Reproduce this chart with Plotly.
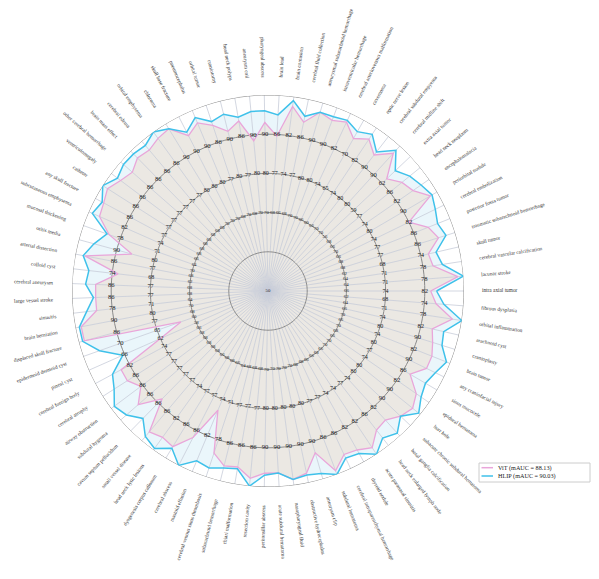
import math
import plotly.graph_objects as go

categories = [
    "intra axial tumor", "lacunar stroke", "cerebral vascular calcification", "skull tumor",
    "traumatic subarachnoid hemorrhage", "posterior fossa tumor", "cerebral embolization",
    "periorbital nodule", "encephalomalacia", "head neck neoplasm", "extra axial tumor",
    "cerebral midline shift", "cerebral subdural empyema", "optic nerve lesion", "cavernoma",
    "cerebral arteriovenous malformation", "intraventricular hemorrhage",
    "aneurysmal subarachnoid hemorrhage", "cerebral fluid collection", "brain contusion",
    "brain lead", "pharyngeal abscess", "aneurysm coil", "head neck polyps", "craniotomy",
    "orbital tumor", "pneumocephalus", "skull base fracture", "chloroma", "orbital emphysema",
    "cerebral edema", "brain mass effect", "other cerebral hemorrhage", "ventriculomegaly",
    "catheter", "any skull fracture", "subcutaneous emphysema", "mucosal thickening",
    "otitis media", "arterial dissection", "colloid cyst", "cerebral aneurysm",
    "large vessel stroke", "sinusitis", "brain herniation", "displaced skull fracture",
    "epidermoid dermoid cyst", "pineal cyst", "cerebral foreign body", "cerebral atrophy",
    "airway obstruction", "subdural hygroma", "cavum septum pellucidum", "small vessel disease",
    "head neck lytic lesions", "dysgenesis corpus callosum", "cerebral abscess",
    "mastoid effusion", "cerebral venous sinus thrombosis", "subarachnoid hemorrhage",
    "chiari malformation", "resection cavity", "peritonsillar abscess",
    "acute subdural hematoma", "nasopharyngeal fluid", "obstructive hydrocephalus",
    "aneurysm clip", "subdural hematoma", "cerebral intraparenchymal hemorrhage",
    "thyroid nodule", "acute paranasal sinusitis", "head neck enlarged lymph node",
    "basal ganglia calcification", "subacute chronic subdural hematoma", "burr hole",
    "epidural hematoma", "sinus mucocele", "any craniofacial injury", "brain tumor",
    "cranioplasty", "arachnoid cyst", "orbital inflammation", "fibrous dysplasia",
]

axis_max = [
    90, 85, 85, 80, 95, 95, 90, 100, 90, 95, 65, 100, 100, 90, 75, 90, 100, 100, 95, 90,
    95, 100, 100, 95, 100, 95, 100, 100, 100, 95, 95, 95, 95, 95, 95, 95, 90, 85, 100, 95,
    80, 95, 95, 85, 100, 95, 75, 70, 90, 95, 95, 95, 95, 95, 90, 95, 95, 90, 85, 95,
    95, 95, 100, 100, 100, 100, 100, 95, 95, 90, 90, 95, 90, 100, 100, 90, 95, 100, 90, 100,
    90, 85, 80,
]

vit = [
    83.2, 84.0, 79.8, 75.2, 91.0, 89.6, 82.0, 98.0, 86.0, 89.6, 62.5, 97.5, 94.0, 87.2, 72.3,
    88.0, 96.5, 97.5, 89.6, 88.0, 85.6, 93.0, 88.5, 89.6, 92.0, 90.1, 96.5, 94.5, 98.5, 93.2,
    92.3, 92.8, 91.4, 92.3, 93.7, 92.8, 87.6, 80.1, 86.0, 92.8, 73.1, 89.6, 89.6, 80.8, 98.5,
    93.7, 61.8, 62.0, 84.0, 88.3, 86.5, 89.6, 84.7, 92.3, 86.8, 91.9, 87.8, 76.4, 80.5, 91.4,
    91.0, 93.2, 96.5, 96.5, 98.5, 97.5, 93.0, 94.1, 91.4, 87.2, 88.4, 90.5, 85.6, 96.5, 97.5,
    86.8, 87.8, 95.0, 86.0, 94.0, 84.4, 83.3, 75.8,
]

hlip = [
    84.4, 85.0, 81.5, 76.4, 92.8, 91.9, 88.0, 98.5, 88.0, 91.9, 63.4, 98.5, 95.0, 88.4, 73.3,
    88.4, 97.5, 97.5, 91.0, 89.2, 90.5, 96.0, 96.0, 90.5, 96.5, 91.0, 98.0, 95.5, 98.5, 95.0,
    93.7, 94.1, 94.1, 93.2, 95.0, 93.2, 89.2, 80.5, 96.0, 93.2, 77.6, 91.9, 90.1, 82.6, 99.0,
    94.1, 72.8, 66.2, 86.0, 91.9, 94.1, 93.2, 91.0, 93.7, 89.6, 92.3, 95.0, 87.6, 83.3, 91.9,
    91.4, 95.0, 97.0, 96.5, 98.5, 98.0, 98.5, 95.0, 92.3, 88.0, 90.0, 92.8, 89.2, 96.5, 99.5,
    88.0, 91.9, 97.5, 89.2, 96.5, 86.8, 85.0, 77.0,
]

series_names = ["ViT (mAUC = 88.13)", "HLIP (mAUC = 90.03)"]
series_colors = ["#e9a6da", "#3fc1ea"]
AXIS_MIN = 50
ring_levels = [0.2, 0.4, 0.6, 0.8, 1.0]

FONT = "Liberation Serif"
CAT_SIZE = 5.3
# the page body adds an 8px margin, so the figure is a bit smaller than the window
W, H = 591, 571
CX, CY, R = 260, 283, 196

N = len(categories)
theta = [i * 360.0 / N for i in range(N)]


def norm(v, m):
    return (v - AXIS_MIN) / (m - AXIS_MIN)


vit_r = [norm(v, m) for v, m in zip(vit, axis_max)]
hlip_r = [norm(v, m) for v, m in zip(hlip, axis_max)]
closed_theta = theta + [theta[0]]

fig = go.Figure()

# filled areas
fig.add_trace(go.Scatterpolar(
    r=hlip_r + [hlip_r[0]], theta=closed_theta, mode="lines",
    line=dict(width=0, color="rgba(0,0,0,0)"), fill="toself", fillcolor="#eaf6fb",
    showlegend=False, hoverinfo="skip"))
fig.add_trace(go.Scatterpolar(
    r=vit_r + [vit_r[0]], theta=closed_theta, mode="lines",
    line=dict(width=0, color="rgba(0,0,0,0)"), fill="toself", fillcolor="#ebe8e3",
    showlegend=False, hoverinfo="skip"))

# spokes
sr, st = [], []
for t in theta:
    sr += [0, 1, None]
    st += [t, t, None]
fig.add_trace(go.Scatterpolar(
    r=sr, theta=st, mode="lines", line=dict(color="#c8cdd9", width=0.8),
    showlegend=False, hoverinfo="skip"))

# rings
ring_theta = [k * 2 for k in range(181)]
for lv in ring_levels:
    fig.add_trace(go.Scatterpolar(
        r=[lv] * len(ring_theta), theta=ring_theta, mode="lines",
        line=dict(color="#8a8a8a", width=1), showlegend=False, hoverinfo="skip"))

# series lines
fig.add_trace(go.Scatterpolar(
    r=vit_r + [vit_r[0]], theta=closed_theta, mode="lines", name=series_names[0],
    line=dict(color=series_colors[0], width=1.3), text=categories + [categories[0]],
    showlegend=False))
fig.add_trace(go.Scatterpolar(
    r=hlip_r + [hlip_r[0]], theta=closed_theta, mode="lines", name=series_names[1],
    line=dict(color=series_colors[1], width=1.5), text=categories + [categories[0]],
    showlegend=False))


def fmt(x):
    return str(int(round(x)))


# per-axis tick labels
label_sizes = {2: 4.8, 3: 6.0, 4: 6.6}
for k in (2, 3, 4):
    fig.add_trace(go.Scatterpolar(
        r=[ring_levels[k - 1]] * N, theta=theta, mode="text",
        text=[fmt(AXIS_MIN + k * (m - AXIS_MIN) / 5) for m in axis_max],
        textfont=dict(family=FONT, size=label_sizes[k], color="#222"),
        cliponaxis=False, showlegend=False, hoverinfo="skip"))
fig.add_trace(go.Scatterpolar(
    r=[1.022] * N, theta=theta, mode="text", text=[fmt(m) for m in axis_max],
    textfont=dict(family=FONT, size=8, color="#333"),
    cliponaxis=False, showlegend=False, hoverinfo="skip"))
fig.add_trace(go.Scatterpolar(
    r=[0], theta=[0], mode="text", text=[str(AXIS_MIN)],
    textfont=dict(family=FONT, size=4.8, color="#222"),
    cliponaxis=False, showlegend=False, hoverinfo="skip"))

# category labels (radial): anchor the rotated box by the corner nearest the circle
annotations = []
hh = (CAT_SIZE * 1.3 + 2) / 2
for i, name in enumerate(categories):
    a = math.radians(theta[i])
    s, c = math.sin(a), math.cos(a)
    rr = R * 1.08
    sx = CX + rr * c
    sy = (H - CY) + rr * s          # y measured upward from the bottom edge
    if c >= 0:
        xa, px = "left", sx - hh * abs(s)
        ang = ((-theta[i] + 180) % 360) - 180
    else:
        xa, px = "right", sx + hh * abs(s)
        ang = 180 - theta[i]
    if s >= 0:
        ya, py = "bottom", sy - hh * abs(c)
    else:
        ya, py = "top", sy + hh * abs(c)
    annotations.append(dict(
        x=px / W, y=py / H, xref="paper", yref="paper", text=name, showarrow=False,
        xanchor=xa, yanchor=ya, textangle=ang,
        font=dict(family=FONT, size=CAT_SIZE, color="#333")))

# legend box (drawn by hand to keep it compact)
LX0, LY0, LX1, LY1 = 471, 455, 582, 474
shapes = [dict(type="rect", xref="paper", yref="paper",
               x0=LX0 / W, x1=LX1 / W, y0=1 - LY1 / H, y1=1 - LY0 / H,
               line=dict(color="#cccccc", width=1), fillcolor="white", layer="above")]
for j, (nm, col) in enumerate(zip(series_names, series_colors)):
    yy = LY0 + 4.7 + j * 8.3
    shapes.append(dict(type="line", xref="paper", yref="paper",
                       x0=(LX0 + 2.5) / W, x1=(LX0 + 14) / W, y0=1 - yy / H, y1=1 - yy / H,
                       line=dict(color=col, width=1.5), layer="above"))
    annotations.append(dict(x=(LX0 + 17) / W, y=1 - yy / H, xref="paper", yref="paper",
                            text=nm, showarrow=False, xanchor="left", yanchor="middle",
                            font=dict(family=FONT, size=6.2, color="#222")))

fig.update_layout(
    width=W, height=H, margin=dict(l=0, r=0, t=0, b=0),
    paper_bgcolor="white", plot_bgcolor="white",
    polar=dict(
        domain=dict(x=[(CX - R) / W, (CX + R) / W], y=[1 - (CY + R) / H, 1 - (CY - R) / H]),
        bgcolor="white",
        radialaxis=dict(range=[0, 1], showgrid=False, showticklabels=False, showline=False,
                        ticks=""),
        angularaxis=dict(rotation=0, direction="counterclockwise", showgrid=False,
                         showticklabels=False, showline=False, ticks=""),
    ),
    annotations=annotations,
    shapes=shapes,
    showlegend=False,
)

fig.write_html("out.html")
